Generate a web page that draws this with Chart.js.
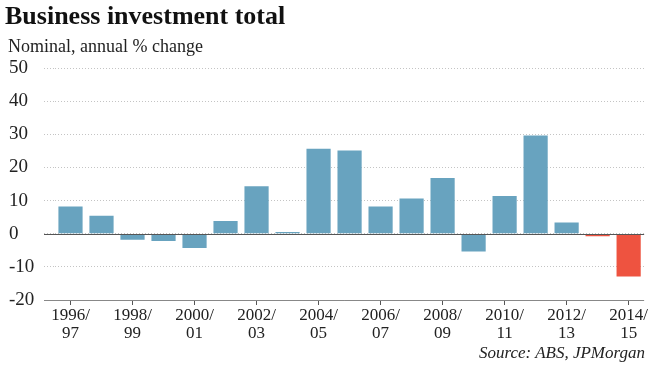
<!DOCTYPE html>
<html>
<head>
<meta charset="utf-8">
<script src="https://cdn.jsdelivr.net/npm/chart.js@4.4.0/dist/chart.umd.min.js"></script>
<style>
  html, body { margin: 0; padding: 0; background: #fff; }
  #wrap { position: relative; width: 650px; height: 366px; font-family: "Liberation Serif", serif; color: #111; }
  #title { position: absolute; left: 5px; top: 1px; font-size: 26px; font-weight: bold; }
  #subtitle { position: absolute; left: 8px; top: 36px; font-size: 18px; color: #222; }
  #source { position: absolute; right: 5px; top: 343px; font-size: 17px; font-style: italic; color: #222; }
  canvas { position: absolute; left: 0; top: 0; }
</style>
</head>
<body>
<div id="wrap">
  <canvas id="chart" width="650" height="366"></canvas>
  <div id="title">Business investment total</div>
  <div id="subtitle">Nominal, annual % change</div>
  <div id="source">Source: ABS, JPMorgan</div>
</div>
<script>
// Financial years shown on the x axis
const years = ['1996/97', '1997/98', '1998/99', '1999/00', '2000/01', '2001/02', '2002/03',
  '2003/04', '2004/05', '2005/06', '2006/07', '2007/08', '2008/09', '2009/10', '2010/11',
  '2011/12', '2012/13', '2013/14', '2014/15'];

// Annual % change in nominal business investment
const change = [8.2, 5.4, -1.8, -2.2, -4.3, 3.8, 14.3, 0.5, 25.6, 25.1, 8.2, 10.6, 16.8,
  -5.4, 11.4, 29.6, 3.4, -0.8, -12.9];

// last two years are forecasts, shown in red
const forecast = [false, false, false, false, false, false, false, false, false, false,
  false, false, false, false, false, false, false, true, true];

const yTicks = [50, 40, 30, 20, 10, 0, -10, -20];

const blue = '#68a3bf';
const red = '#ee5340';

// solid lines at zero and along the bottom, reaching under the y labels like the tick marks
const solidLines = {
  id: 'solidLines',
  afterDatasetsDraw(chart) {
    const { ctx, chartArea, scales } = chart;
    ctx.save();
    ctx.lineWidth = 1;
    [[0, '#555'], [-20, '#888']].forEach(([v, c]) => {
      const y = Math.round(scales.y.getPixelForValue(v)) + 0.5;
      ctx.strokeStyle = c;
      ctx.beginPath();
      ctx.moveTo(chartArea.left - 11, y);
      ctx.lineTo(chartArea.right, y);
      ctx.stroke();
    });
    ctx.restore();
  }
};

new Chart(document.getElementById('chart'), {
  type: 'bar',
  data: {
    labels: years,
    datasets: [{
      data: change,
      backgroundColor: forecast.map(f => f ? red : blue),
      barPercentage: 0.78,
      categoryPercentage: 1
    }]
  },
  options: {
    responsive: false,
    animation: false,
    layout: { padding: { top: 68, left: 9, right: 0, bottom: 0 } },
    plugins: { legend: { display: false }, tooltip: { enabled: false } },
    scales: {
      x: {
        grid: {
          drawOnChartArea: false,
          offset: false,
          tickLength: 5,
          tickColor: ctx => ctx.index % 2 === 0 ? '#555' : 'rgba(0,0,0,0)'
        },
        border: { display: false },
        ticks: {
          autoSkip: false,
          maxRotation: 0,
          padding: 2,
          color: '#222',
          font: { family: 'Liberation Serif', size: 17, lineHeight: 1.05 },
          callback: function (value, index) {
            if (index % 2 !== 0) return '';
            const parts = this.getLabelForValue(value).split('/');
            return [parts[0] + '/', parts[1]];
          }
        },
        afterFit: scale => { scale.height = 66; }
      },
      y: {
        min: -20,
        max: 50,
        afterBuildTicks: scale => { scale.ticks = yTicks.map(v => ({ value: v })); },
        grid: {
          color: '#c4c4c4',
          lineWidth: 1,
          tickLength: 11,
          tickColor: '#c4c4c4',
          tickBorderDash: [1, 2]
        },
        border: { display: false, dash: [1, 2] },
        ticks: {
          crossAlign: 'far',
          padding: 4,
          color: '#222',
          font: { family: 'Liberation Serif', size: 19 }
        },
        afterFit: scale => { scale.width = 46; }
      }
    }
  },
  plugins: [solidLines]
});
</script>
</body>
</html>
